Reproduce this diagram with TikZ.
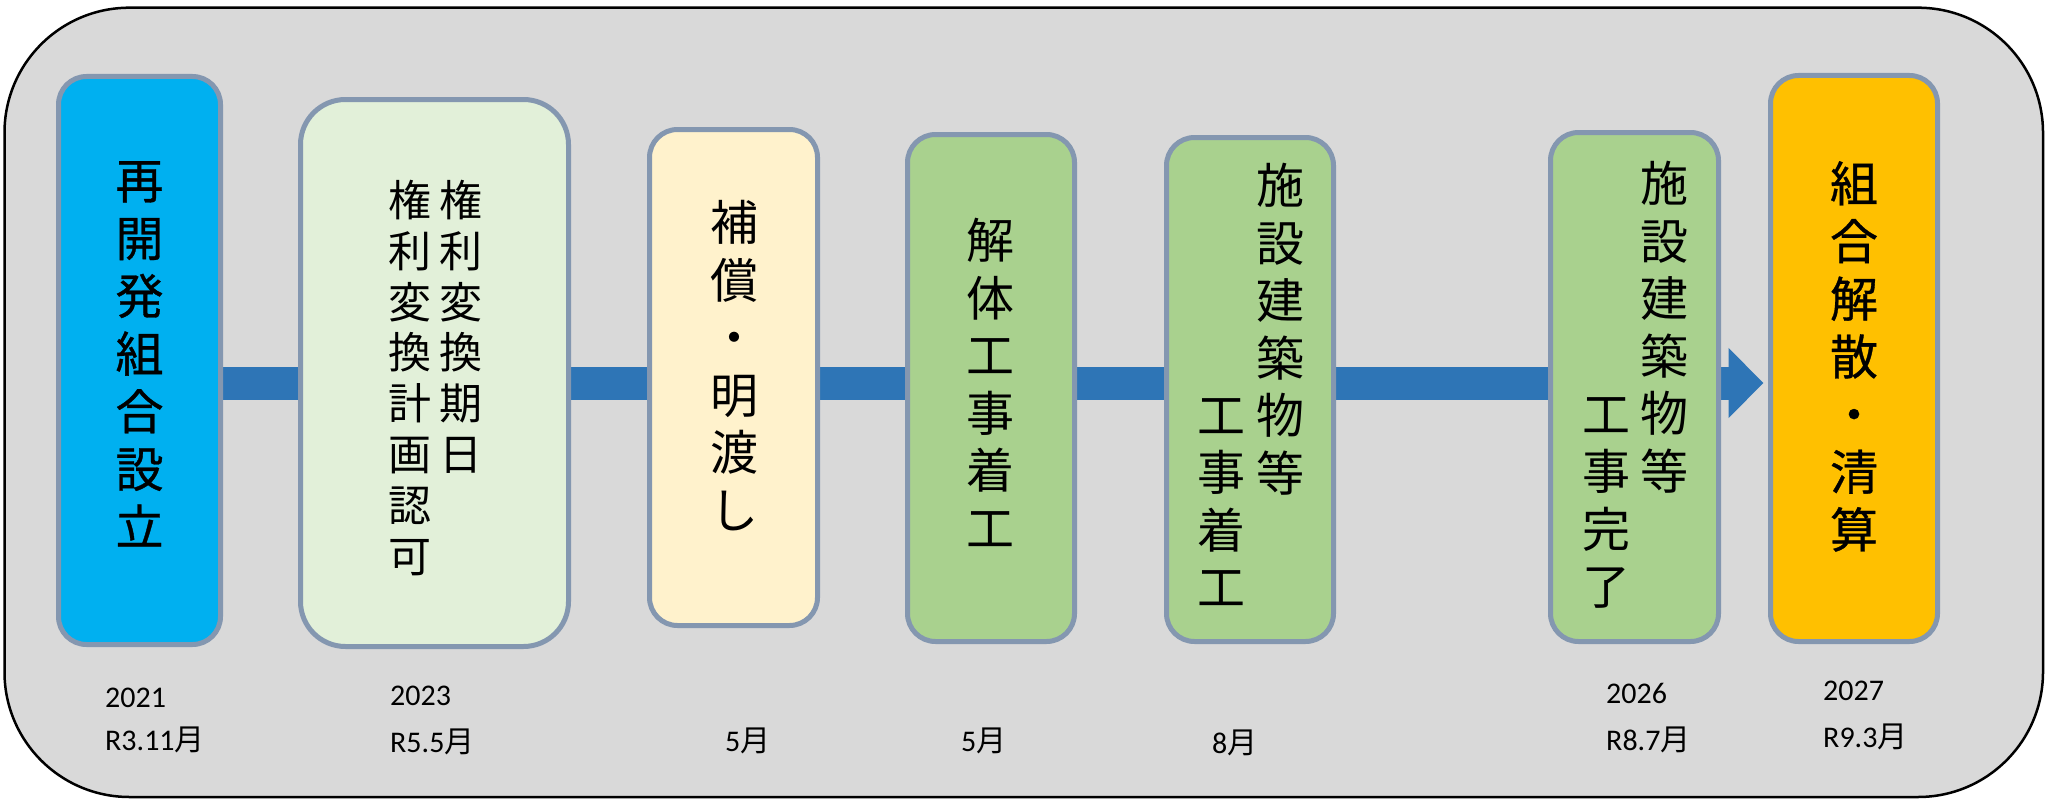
\documentclass[tikz,border=0pt]{standalone}
\usepackage{fontspec}
\newfontfamily\jp{Noto Sans CJK JP}
\newfontfamily\jpheavy[FakeBold=0.7]{Noto Sans CJK JP}
\newfontfamily\lat{Carlito}
\usetikzlibrary{arrows.meta,calc}
\definecolor{framebg}{HTML}{D9D9D9}
\definecolor{boxline}{HTML}{8497B0}
\definecolor{cblue}{HTML}{00B0F0}
\definecolor{cpale}{HTML}{E2F0D9}
\definecolor{ccream}{HTML}{FFF2CC}
\definecolor{cgreen}{HTML}{A9D18E}
\definecolor{corange}{HTML}{FFC000}
\definecolor{flowblue}{HTML}{2E75B6}
\pgfdeclarelayer{framelayer}
\pgfdeclarelayer{connlayer}
\pgfsetlayers{framelayer,connlayer,main}
\begin{document}
\begin{tikzpicture}[x=1pt,y=-1pt,
  box/.style={draw=boxline, line width=5pt, rounded corners=28pt, inner sep=0pt},
  vtext/.style={anchor=north, inner sep=0pt, align=center, font=\jp\fontsize{48pt}{57.6pt}\selectfont},
  vheavy/.style={anchor=north, inner sep=0pt, align=center, font=\jpheavy\fontsize{48pt}{57.7pt}\selectfont},
  vsmall/.style={anchor=north, inner sep=0pt, align=center, font=\jp\fontsize{43pt}{50.8pt}\selectfont},
  datelbl/.style={anchor=base west, inner sep=0pt, font=\lat\fontsize{30pt}{36pt}\selectfont},
  flow/.style={draw=flowblue, line width=33pt, -{Triangle[width=68pt,length=35pt]}, shorten >=4.5pt}]
\useasboundingbox (0,0) rectangle (2048,800);
\begin{pgfonlayer}{framelayer}
  \draw[fill=framebg, draw=black, line width=2.5pt, rounded corners=125pt] (4.5,7.7) rectangle (2043,797);
\end{pgfonlayer}
% boxes
\node[box, fill=cblue,   minimum width=162pt, minimum height=568pt] (b1) at (139.5,360.5) {};
\node[box, fill=cpale,   minimum width=268pt, minimum height=547pt, rounded corners=45pt] (b2) at (434.5,373) {};
\node[box, fill=ccream,  minimum width=168pt, minimum height=496pt] (b3) at (733.5,377.5) {};
\node[box, fill=cgreen,  minimum width=167pt, minimum height=507pt] (b4) at (991,388) {};
\node[box, fill=cgreen,  minimum width=167pt, minimum height=504pt] (b5) at (1250,389.5) {};
\node[box, fill=cgreen,  minimum width=168pt, minimum height=509pt] (b6) at (1634.5,387) {};
\node[box, fill=corange, minimum width=167pt, minimum height=566pt] (b7) at (1854,358.5) {};
% texts
\node[vheavy] (t1) at (139.5,161) {再\\開\\発\\組\\合\\設\\立};
\node[vsmall] (t2r) at (461,180) {権\\利\\変\\換\\期\\日};
\node[vsmall] (t2l) at (410,180) {権\\利\\変\\換\\計\\画\\認\\可};
\node[vtext] (t3) at (734,200) {補\\償\\・\\明\\渡\\し};
\node[vtext] (t4) at (990,218) {解\\体\\工\\事\\着\\工};
\node[vtext] (t5r) at (1280,163) {施\\設\\建\\築\\物\\等};
\node[vtext] (t5l) at (1221,398) {工\\事\\着\\工};
\node[vtext] (t6r) at (1664,161) {施\\設\\建\\築\\物\\等};
\node[vtext] (t6l) at (1606,397) {工\\事\\完\\了};
\node[vheavy] (t7) at (1854,161) {組\\合\\解\\散\\・\\清\\算};
% dates
\node[datelbl] (d1a) at (105,707) {2021};
\node[datelbl] (d1b) at (105,750) {R3.11{\jp 月}};
\node[datelbl] (d2a) at (390,705) {2023};
\node[datelbl] (d2b) at (390,752) {R5.5{\jp 月}};
\node[datelbl] (d3) at (725,751) {5{\jp 月}};
\node[datelbl] (d4) at (961,751) {5{\jp 月}};
\node[datelbl] (d5) at (1212,753) {8{\jp 月}};
\node[datelbl] (d6a) at (1606,703) {2026};
\node[datelbl] (d6b) at (1606,750) {R8.7{\jp 月}};
\node[datelbl] (d7a) at (1823,700) {2027};
\node[datelbl] (d7b) at (1823,747) {R9.3{\jp 月}};
% flow arrow
\coordinate (ay) at (0,383);
\begin{pgfonlayer}{connlayer}
  \draw[flow] (b1.east |- ay) -- (b7.west |- ay);
\end{pgfonlayer}
\end{tikzpicture}
\end{document}
